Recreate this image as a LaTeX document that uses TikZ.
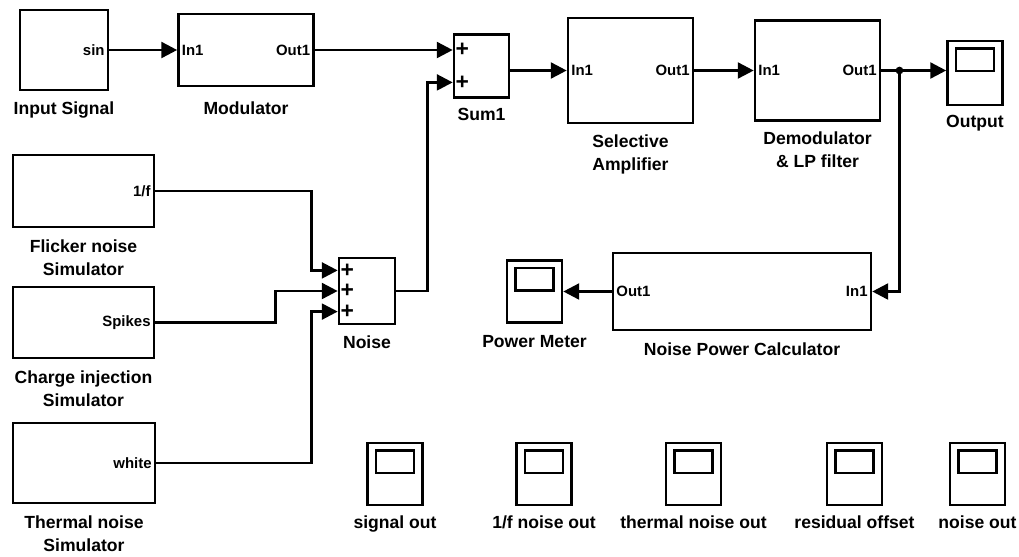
\documentclass[tikz,border=0pt]{standalone}
\usepackage{fontspec}
\setmainfont{Liberation Sans}
\setsansfont{Liberation Sans}
\usepackage{tikz}
\usetikzlibrary{arrows.meta,positioning,calc}

\begin{document}
\begin{tikzpicture}[
    x=0.02cm, y=-0.02cm,
    font=\sffamily\bfseries,
    block/.style={rectangle, draw, line width=1.5pt, inner sep=0pt},
    scopebox/.style={rectangle, draw, line width=1.5pt, inner sep=0pt,
      minimum width=1.1cm, minimum height=1.24cm,
      path picture={\draw[line width=1.5pt]
        ([shift={(0.17cm,-0.15cm)}]path picture bounding box.north west) rectangle
        ([shift={(-0.17cm,-0.6cm)}]path picture bounding box.north east);}},
    port/.style={font=\sffamily\bfseries\fontsize{8.5}{9}\selectfont, inner sep=2.5pt},
    plus/.style={font=\sffamily\bfseries\fontsize{13}{13}\selectfont, inner sep=1.5pt},
    caption/.style={font=\sffamily\bfseries\fontsize{10}{13}\selectfont, align=center, inner sep=0pt},
    sig/.style={-{Triangle[length=9pt, width=9pt]}, line width=1.5pt},
  ]
  \fill[white] (0,0) rectangle (1019,556);
  \useasboundingbox (0,0) rectangle (1019,556);

  %% Signal path
  \node[block, minimum width=1.76cm, minimum height=1.6cm] (inp) at (64,50) {};
  \node[port, anchor=east] (inpo) at (inp.east) {sin};
  \node[caption, below=0.2cm of inp] (inpl) {Input Signal};

  \node[block, minimum width=2.7cm, minimum height=1.44cm] (mod) at (246,50) {};
  \node[port, anchor=west] (modi) at (mod.west) {In1};
  \node[port, anchor=east] (modo) at (mod.east) {Out1};
  \node[caption, below=0.28cm of mod] (modl) {Modulator};

  \node[block, minimum width=1.1cm, minimum height=1.26cm] (sum1) at (481.5,66) {};
  \coordinate (s1a) at ($(sum1.north west)!0.25!(sum1.south west)$);
  \coordinate (s1b) at ($(sum1.north west)!0.75!(sum1.south west)$);
  \node[plus, anchor=west] (s1pa) at (s1a) {+};
  \node[plus, anchor=west] (s1pb) at (s1b) {+};
  \node[caption, below=0.18cm of sum1] (sum1l) {Sum1};

  \node[block, minimum width=2.5cm, minimum height=2.1cm] (sel) at (630.5,70.5) {};
  \node[port, anchor=west] (seli) at (sel.west) {In1};
  \node[port, anchor=east] (selo) at (sel.east) {Out1};
  \node[caption, below=0.2cm of sel] (sell) {Selective\\Amplifier};

  \node[block, minimum width=2.5cm, minimum height=2cm] (dem) at (817.5,70.5) {};
  \node[port, anchor=west] (demi) at (dem.west) {In1};
  \node[port, anchor=east] (demo) at (dem.east) {Out1};
  \node[caption, below=0.2cm of dem] (deml) {Demodulator\\\& LP filter};

  \node[scopebox, minimum height=1.28cm] (outs) at (975,73) {};
  \node[caption, below=0.18cm of outs] (outsl) {Output};

  %% Noise sources
  \node[block, minimum width=2.82cm, minimum height=1.44cm] (fl) at (83.5,191) {};
  \node[port, anchor=east] (flo) at (fl.east) {1/f};
  \node[caption, below=0.22cm of fl] (fll) {Flicker noise\\Simulator};

  \node[block, minimum width=2.82cm, minimum height=1.42cm] (ch) at (83.5,322.5) {};
  \node[port, anchor=east] (cho) at (ch.east) {Spikes};
  \node[caption, below=0.22cm of ch] (chl) {Charge injection\\Simulator};

  \node[block, minimum width=2.84cm, minimum height=1.6cm] (th) at (84,463) {};
  \node[port, anchor=east] (tho) at (th.east) {white};
  \node[caption, below=0.22cm of th] (thl) {Thermal noise\\Simulator};

  \node[block, minimum width=1.12cm, minimum height=1.32cm] (noi) at (367,291) {};
  \coordinate (n1) at ($(noi.north west)!0.2!(noi.south west)$);
  \coordinate (n2) at ($(noi.north west)!0.5!(noi.south west)$);
  \coordinate (n3) at ($(noi.north west)!0.8!(noi.south west)$);
  \node[plus, anchor=west] (np1) at (n1) {+};
  \node[plus, anchor=west] (np2) at (n2) {+};
  \node[plus, anchor=west] (np3) at (n3) {+};
  \node[caption, below=0.2cm of noi] (noil) {Noise};

  %% Power measurement
  \node[block, minimum width=5.16cm, minimum height=1.54cm] (npc) at (742,291.5) {};
  \node[port, anchor=west] (npco) at (npc.west) {Out1};
  \node[port, anchor=east] (npci) at (npc.east) {In1};
  \node[caption, below=0.22cm of npc] (npcl) {Noise Power Calculator};

  \node[scopebox] (pm) at (534.5,291.5) {};
  \node[caption, below=0.22cm of pm] (pml) {Power Meter};

  %% Spare scopes
  \node[scopebox] (sgo) at (395,474) {};
  \node[caption, below=0.18cm of sgo] (sgol) {signal out};
  \node[scopebox] (fno) at (544,474) {};
  \node[caption, below=0.18cm of fno] (fnol) {1/f noise out};
  \node[scopebox] (tno) at (693.5,474) {};
  \node[caption, below=0.18cm of tno] (tnol) {thermal noise out};
  \node[scopebox] (rof) at (854.5,474) {};
  \node[caption, below=0.18cm of rof] (rofl) {residual offset};
  \node[scopebox] (nso) at (977.5,474) {};
  \node[caption, below=0.18cm of nso] (nsol) {noise out};

  %% Signal connections
  \draw[sig] (inp.east) -- (mod.west);
  \draw[sig] (mod.east) -- (mod.east -| sum1.west);
  \draw[sig] (sum1.east |- sel.west) -- (sel.west);
  \draw[sig] (sel.east) -- (dem.west);
  \coordinate (j) at ($(dem.east)!0.28!(dem.east -| outs.west)$);
  \draw[sig] (dem.east) -- (dem.east -| outs.west);
  \fill (j) circle (2.2pt);
  \draw[sig] (j) |- (npc.east);
  \draw[sig] (npc.west) -- (pm.east);

  %% Noise connections
  \draw[sig] (fl.east) -| ($(n1)+(-26,0)$) -- (n1);
  \draw[sig] (ch.east) -| ($(n2)+(-62,0)$) -- (n2);
  \draw[sig] (th.east) -| ($(n3)+(-26,0)$) -- (n3);
  \draw[sig] (noi.east) -| ($(s1b)+(-25,0)$) -- (s1b);

\end{tikzpicture}
\end{document}
